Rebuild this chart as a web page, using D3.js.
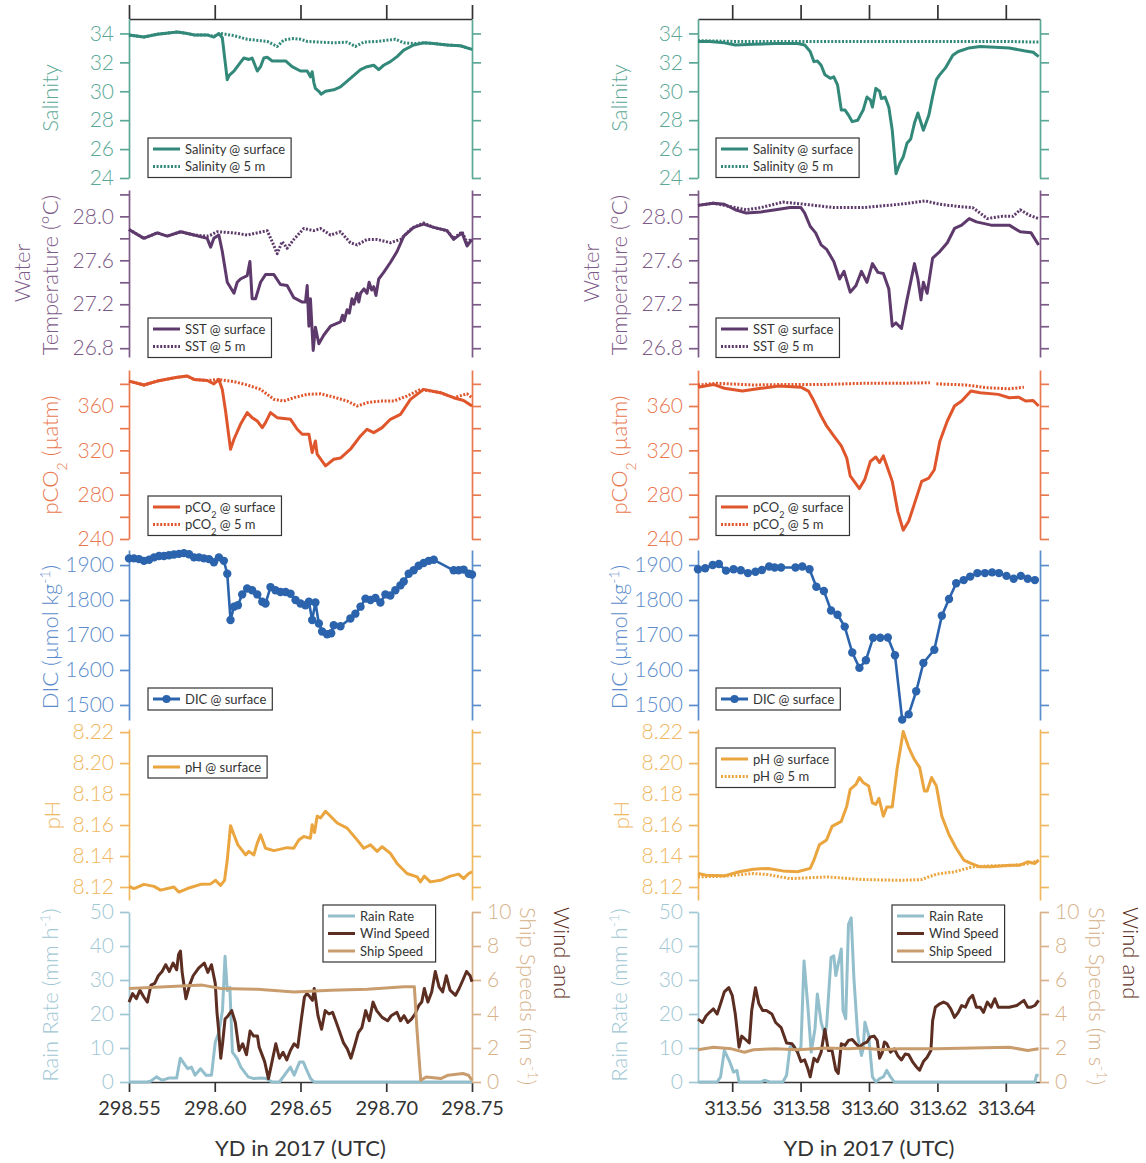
<!DOCTYPE html>
<html>
<head>
<meta charset="utf-8">
<script src="https://cdn.jsdelivr.net/npm/d3@7"></script>
<style>
  body { margin: 0; background: #fff; }
  svg text { font-family: Lato, "Open Sans", sans-serif; font-weight: 300; }
  svg text.dark { font-weight: 400; }
</style>
</head>
<body>
<svg id="chart" width="1146" height="1163"></svg>
<script>
// ---------------- tick values ----------------
const xTicksLeft  = [298.55, 298.60, 298.65, 298.70, 298.75];
const xTicksRight = [313.56, 313.58, 313.60, 313.62, 313.64];
const salTicks   = [24, 26, 28, 30, 32, 34];
const tempTicks  = [26.8, 27.0, 27.2, 27.4, 27.6, 27.8, 28.0, 28.2];
const tempLabels = [26.8, 27.2, 27.6, 28.0];
const pco2Ticks  = [240, 260, 280, 300, 320, 340, 360, 380];
const pco2Labels = [240, 280, 320, 360];
const dicTicks   = [1500, 1600, 1700, 1800, 1900];
const phTicks    = [8.12, 8.14, 8.16, 8.18, 8.20, 8.22];
const rainTicks  = [0, 10, 20, 30, 40, 50];
const speedTicks = [0, 2, 4, 6, 8, 10];

// ---------------- YD 298 (left column) ----------------
const salSurfL = [[298.5500,33.9],[298.5587,33.75],[298.5665,33.95],[298.5782,34.1],[298.5840,34.0],[298.5879,33.9],[298.5956,33.9],[298.5995,33.75],[298.6024,34.0],[298.6044,33.7],[298.6057,32.4],[298.6073,30.8],[298.6084,31.1],[298.6112,31.4],[298.6150,32.0],[298.6170,32.3],[298.6199,32.2],[298.6218,32.3],[298.6248,31.4],[298.6267,31.7],[298.6286,32.3],[298.6306,32.35],[298.6335,32.1],[298.6413,32.1],[298.6451,31.7],[298.6500,31.4],[298.6539,31.4],[298.6558,31.0],[298.6568,31.35],[298.6578,30.6],[298.6587,30.2],[298.6607,30.0],[298.6620,29.8],[298.6646,30.0],[298.6694,30.1],[298.6733,30.3],[298.6791,30.9],[298.6850,31.5],[298.6888,31.7],[298.6927,31.8],[298.6956,31.5],[298.6985,31.8],[298.7024,32.05],[298.7063,32.4],[298.7102,32.85],[298.7160,33.2],[298.7218,33.35],[298.7277,33.3],[298.7354,33.2],[298.7432,33.15],[298.7500,32.9]];
const sal5mL = [[298.5500,33.9],[298.5587,33.75],[298.5665,33.95],[298.5782,34.1],[298.5840,34.0],[298.5879,33.9],[298.5956,33.9],[298.5995,33.8],[298.6034,34.0],[298.6112,33.85],[298.6189,33.6],[298.6267,33.5],[298.6306,33.45],[298.6364,33.1],[298.6403,33.55],[298.6461,33.65],[298.6500,33.6],[298.6539,33.45],[298.6617,33.4],[298.6694,33.35],[298.6772,33.4],[298.6820,33.1],[298.6869,33.4],[298.6947,33.45],[298.7053,33.6],[298.7102,33.35],[298.7160,33.3],[298.7218,33.35],[298.7277,33.3],[298.7354,33.2],[298.7432,33.15],[298.7500,32.9]];

const tempSurfL = [[298.5500,27.88],[298.5587,27.80],[298.5665,27.85],[298.5723,27.82],[298.5801,27.86],[298.5879,27.83],[298.5956,27.80],[298.5976,27.72],[298.5995,27.80],[298.6024,27.83],[298.6044,27.68],[298.6073,27.40],[298.6112,27.30],[298.6131,27.40],[298.6150,27.43],[298.6189,27.46],[298.6205,27.59],[298.6218,27.25],[298.6238,27.25],[298.6267,27.40],[298.6296,27.47],[298.6345,27.47],[298.6383,27.38],[298.6422,27.37],[298.6461,27.26],[298.6510,27.22],[298.6529,27.22],[298.6539,27.37],[298.6549,27.00],[298.6558,27.25],[298.6574,26.78],[298.6587,26.99],[298.6607,26.84],[298.6636,26.92],[298.6675,27.00],[298.6733,27.04],[298.6745,27.10],[298.6755,27.05],[298.6772,27.15],[298.6785,27.12],[298.6800,27.25],[298.6811,27.20],[298.6830,27.30],[298.6840,27.22],[298.6850,27.30],[298.6870,27.34],[298.6888,27.30],[298.6900,27.40],[298.6915,27.33],[298.6927,27.36],[298.6940,27.28],[298.6956,27.43],[298.6985,27.49],[298.7024,27.58],[298.7063,27.68],[298.7102,27.82],[298.7160,27.90],[298.7218,27.93],[298.7277,27.90],[298.7354,27.87],[298.7393,27.79],[298.7442,27.85],[298.7471,27.73],[298.7500,27.79]];
const temp5mL = [[298.5500,27.88],[298.5587,27.80],[298.5665,27.85],[298.5723,27.82],[298.5801,27.86],[298.5879,27.83],[298.5956,27.82],[298.5976,27.83],[298.6014,27.86],[298.6112,27.85],[298.6189,27.83],[298.6306,27.87],[298.6335,27.77],[298.6364,27.66],[298.6393,27.77],[298.6422,27.71],[298.6461,27.79],[298.6519,27.89],[298.6578,27.87],[298.6617,27.89],[298.6675,27.83],[298.6733,27.86],[298.6791,27.76],[298.6830,27.74],[298.6888,27.79],[298.6947,27.79],[298.7024,27.76],[298.7083,27.79],[298.7141,27.88],[298.7160,27.90],[298.7218,27.94],[298.7277,27.90],[298.7354,27.87],[298.7393,27.80],[298.7442,27.86],[298.7471,27.76],[298.7500,27.80]];

const pco2SurfL = [[298.5500,382.5],[298.5587,379],[298.5665,382.5],[298.5782,386],[298.5840,387],[298.5879,384],[298.5956,383],[298.5995,380],[298.6024,384],[298.6044,375],[298.6063,355.5],[298.6092,321],[298.6112,330],[298.6150,343.5],[298.6189,354],[298.6218,349.5],[298.6248,346.5],[298.6277,340.5],[298.6296,345],[298.6325,354],[298.6364,349.5],[298.6442,348],[298.6481,339],[298.6510,334.5],[298.6549,334.5],[298.6568,318],[298.6587,328.5],[298.6597,316.5],[298.6646,306],[298.6694,312],[298.6733,313],[298.6791,321],[298.6850,333],[298.6888,339],[298.6927,336],[298.6976,340.5],[298.7024,348],[298.7083,352.5],[298.7141,366],[298.7218,375],[298.7316,372],[298.7393,367.5],[298.7451,365],[298.7500,360]];
const pco25mL = [[298.5500,382.5],[298.5587,379],[298.5665,382.5],[298.5782,386],[298.5840,387],[298.5879,384],[298.5956,383],[298.6024,384],[298.6112,382],[298.6189,379],[298.6267,375],[298.6345,366],[298.6403,364.5],[298.6461,367.5],[298.6539,370.5],[298.6617,371],[298.6694,368],[298.6772,364.5],[298.6830,360],[298.6888,363],[298.6966,364.5],[298.7044,364.5],[298.7121,369],[298.7199,375],[298.7316,372],[298.7393,367.5],[298.7471,371],[298.7500,367.5]];

const dicSurfL = [[298.5500,1919],[298.5529,1919],[298.5558,1917],[298.5587,1912],[298.5617,1915],[298.5646,1922],[298.5675,1926],[298.5704,1926],[298.5733,1928],[298.5762,1930],[298.5791,1932],[298.5820,1934],[298.5850,1931],[298.5879,1922],[298.5908,1922],[298.5937,1919],[298.5966,1917],[298.5995,1908],[298.6024,1922],[298.6053,1912],[298.6073,1875],[298.6092,1743],[298.6112,1781],[298.6135,1785],[298.6160,1816],[298.6189,1833],[298.6218,1828],[298.6248,1816],[298.6277,1795],[298.6296,1790],[298.6325,1837],[298.6354,1828],[298.6383,1823],[298.6413,1823],[298.6442,1818],[298.6471,1800],[298.6500,1790],[298.6529,1785],[298.6549,1795],[298.6568,1743],[298.6587,1793],[298.6607,1733],[298.6626,1710],[298.6655,1702],[298.6679,1705],[298.6694,1728],[298.6733,1725],[298.6791,1747],[298.6820,1761],[298.6850,1781],[298.6879,1804],[298.6908,1800],[298.6937,1806],[298.6966,1793],[298.6995,1816],[298.7024,1813],[298.7053,1828],[298.7083,1842],[298.7102,1853],[298.7131,1875],[298.7160,1885],[298.7189,1898],[298.7218,1906],[298.7248,1912],[298.7277,1915],[298.7393,1885],[298.7422,1885],[298.7451,1887],[298.7481,1875],[298.7500,1873]];

const phSurfL = [[298.5500,8.1204],[298.5529,8.119],[298.5587,8.1217],[298.5646,8.1204],[298.5684,8.118],[298.5762,8.12],[298.5791,8.1167],[298.5840,8.119],[298.5918,8.1217],[298.5976,8.122],[298.6005,8.1243],[298.6034,8.121],[298.6057,8.1243],[298.6073,8.1374],[298.6092,8.1596],[298.6112,8.1537],[298.6135,8.1472],[298.6180,8.1407],[298.6199,8.143],[298.6228,8.1407],[298.6248,8.1483],[298.6267,8.1537],[298.6296,8.145],[298.6345,8.1435],[298.6422,8.1454],[298.6461,8.145],[298.6490,8.1504],[298.6519,8.1526],[298.6558,8.1515],[298.6568,8.1602],[298.6582,8.1552],[298.6597,8.1657],[298.6617,8.1646],[298.6646,8.1689],[298.6675,8.1657],[298.6714,8.1613],[298.6772,8.158],[298.6830,8.1504],[298.6869,8.145],[298.6908,8.1472],[298.6947,8.143],[298.6976,8.146],[298.7024,8.1417],[298.7063,8.1352],[298.7121,8.1287],[298.7180,8.1265],[298.7199,8.1233],[298.7222,8.127],[298.7257,8.1233],[298.7316,8.1243],[298.7374,8.127],[298.7422,8.1283],[298.7451,8.1254],[298.7481,8.1287],[298.7500,8.1298]];

const rainL = [[298.5500,0],[298.5607,0],[298.5628,0.3],[298.5660,1.5],[298.5693,0.5],[298.5735,1.2],[298.5778,1.2],[298.5799,7.0],[298.5821,5.4],[298.5842,3.9],[298.5864,4.4],[298.5885,2.0],[298.5917,3.9],[298.5949,2.0],[298.5981,2.0],[298.6003,11.7],[298.6024,14.6],[298.6045,21],[298.6060,37],[298.6073,26.9],[298.6088,27.8],[298.6103,8.8],[298.6131,6.8],[298.6152,4.4],[298.6174,2.9],[298.6195,1.5],[298.6227,1.0],[298.6270,1.2],[298.6302,1.0],[298.6334,0],[298.6377,0],[298.6441,4.4],[298.6463,2.0],[298.6495,5.9],[298.6516,5.9],[298.6537,3.4],[298.6559,1.0],[298.6580,0],[298.7500,0]];
const windL = [[298.5500,4.7],[298.5521,5.2],[298.5543,4.9],[298.5564,5.4],[298.5586,5.0],[298.5607,4.7],[298.5628,5.7],[298.5650,5.8],[298.5671,6.25],[298.5693,6.5],[298.5714,6.9],[298.5735,6.5],[298.5757,7.0],[298.5778,6.6],[298.5789,7.5],[298.5800,7.7],[298.5810,6.45],[298.5832,4.9],[298.5853,5.7],[298.5874,6.25],[298.5906,6.7],[298.5939,7.0],[298.5960,6.45],[298.5981,6.9],[298.6003,5.8],[298.6013,4.1],[298.6024,2.9],[298.6035,1.4],[298.6046,2.3],[298.6060,3.7],[298.6078,3.9],[298.6099,4.2],[298.6120,3.5],[298.6142,1.85],[298.6163,2.25],[298.6185,1.6],[298.6206,3.0],[298.6227,2.7],[298.6249,2.7],[298.6259,2.05],[298.6291,1.2],[298.6313,0.2],[298.6334,1.2],[298.6356,2.25],[298.6377,1.4],[298.6398,1.75],[298.6420,1.3],[298.6441,1.85],[298.6463,2.25],[298.6484,2.05],[298.6505,3.7],[298.6523,5.0],[298.6537,5.2],[298.6548,5.1],[298.6570,4.8],[298.6580,5.5],[298.6602,3.9],[298.6623,3.1],[298.6644,4.2],[298.6666,4.0],[298.6687,4.1],[298.6709,3.5],[298.6730,2.9],[298.6751,2.3],[298.6773,1.95],[298.6794,1.4],[298.6816,2.15],[298.6837,2.9],[298.6858,3.2],[298.6880,4.2],[298.6901,3.6],[298.6923,4.7],[298.6944,4.2],[298.6976,3.8],[298.7008,3.6],[298.7029,3.9],[298.7062,4.1],[298.7083,3.6],[298.7104,3.9],[298.7126,3.5],[298.7147,3.7],[298.7168,4.0],[298.7190,4.5],[298.7207,4.7],[298.7222,5.5],[298.7243,4.7],[298.7265,5.3],[298.7286,6.5],[298.7308,5.6],[298.7329,5.3],[298.7350,6.25],[298.7372,5.4],[298.7404,5.1],[298.7425,5.5],[298.7447,6.0],[298.7468,6.5],[298.7489,6.25],[298.7500,5.9]];
const shipL = [[298.5500,5.5],[298.5714,5.6],[298.5928,5.7],[298.6035,5.5],[298.6249,5.45],[298.6463,5.3],[298.6677,5.4],[298.6890,5.45],[298.7104,5.6],[298.7164,5.6],[298.7179,3.1],[298.7201,0.1],[298.7233,0.3],[298.7318,0.2],[298.7361,0.4],[298.7447,0.5],[298.7479,0.4],[298.7500,0.1]];

// ---------------- YD 313 (right column) ----------------
const salSurfR = [[313.5500,33.45],[313.5534,33.45],[313.5577,33.35],[313.5609,33.2],[313.5662,33.25],[313.5727,33.3],[313.5791,33.3],[313.5812,33.2],[313.5828,32.75],[313.5839,32.05],[313.5849,32.1],[313.5860,31.8],[313.5871,31.15],[313.5887,30.9],[313.5897,31.0],[313.5908,30.45],[313.5919,28.7],[313.5930,28.7],[313.5940,28.35],[313.5951,27.9],[313.5967,28.0],[313.5983,28.7],[313.5994,29.6],[313.6004,29.4],[313.6010,28.9],[313.6020,30.2],[313.6031,30.0],[313.6036,29.5],[313.6047,29.6],[313.6058,28.9],[313.6068,27.3],[313.6079,24.3],[313.6090,25.0],[313.6100,25.45],[313.6111,26.4],[313.6122,26.7],[313.6133,27.8],[313.6143,28.5],[313.6159,27.3],[313.6175,28.35],[313.6186,29.65],[313.6197,30.8],[313.6207,31.15],[313.6223,31.6],[313.6245,32.5],[313.6261,32.75],[313.6293,33.0],[313.6325,33.1],[313.6368,33.05],[313.6410,33.0],[313.6453,32.8],[313.6480,32.7],[313.6496,32.4]];
const sal5mR = [[313.5500,33.5],[313.5550,33.48],[313.5600,33.45],[313.5700,33.45],[313.5800,33.45],[313.5900,33.45],[313.6000,33.45],[313.6100,33.45],[313.6200,33.45],[313.6300,33.45],[313.6400,33.45],[313.6496,33.4]];

const tempSurfR = [[313.5500,28.10],[313.5545,28.12],[313.5577,28.11],[313.5609,28.06],[313.5641,28.03],[313.5684,28.04],[313.5727,28.06],[313.5769,28.08],[313.5801,28.08],[313.5812,28.03],[313.5828,27.91],[313.5844,27.85],[313.5860,27.74],[313.5876,27.70],[313.5897,27.59],[313.5914,27.43],[313.5927,27.50],[313.5945,27.31],[313.5962,27.37],[313.5978,27.50],[313.5994,27.40],[313.6010,27.57],[313.6026,27.49],[313.6042,27.48],[313.6058,27.34],[313.6068,27.00],[313.6079,27.03],[313.6095,26.98],[313.6111,27.24],[313.6133,27.57],[313.6143,27.43],[313.6152,27.24],[313.6159,27.40],[313.6170,27.30],[313.6186,27.62],[313.6207,27.68],[313.6229,27.76],[313.6250,27.89],[313.6271,27.92],[313.6293,27.98],[313.6314,27.95],[313.6357,27.92],[313.6410,27.92],[313.6442,27.86],[313.6474,27.85],[313.6496,27.74]];
const temp5mR = [[313.5500,28.10],[313.5545,28.12],[313.5609,28.08],[313.5641,28.06],[313.5684,28.08],[313.5748,28.13],[313.5812,28.11],[313.5897,28.08],[313.5983,28.08],[313.6090,28.11],[313.6165,28.14],[313.6207,28.11],[313.6261,28.09],[313.6303,28.08],[313.6346,27.98],[313.6389,28.00],[313.6421,28.00],[313.6442,28.06],[313.6469,28.01],[313.6496,27.98]];

const pco2SurfR = [[313.5500,377],[313.5545,379.5],[313.5577,376],[313.5630,373.5],[313.5684,376],[313.5737,378],[313.5801,377],[313.5823,373.5],[313.5839,364.5],[313.5860,351],[313.5876,342],[313.5897,333],[313.5919,324],[313.5935,313],[313.5945,297],[313.5972,285.5],[313.5988,294],[313.6004,310],[313.6020,314],[313.6031,309],[313.6042,315],[313.6058,301],[313.6068,292],[313.6084,265],[313.6100,248],[313.6116,256],[313.6132,271],[313.6154,292],[313.6175,295],[313.6191,302.5],[313.6207,328],[313.6229,346.5],[313.6250,360],[313.6271,364.5],[313.6298,373.5],[313.6325,372],[313.6378,370.5],[313.6410,367.5],[313.6437,368],[313.6458,364.5],[313.6480,365],[313.6496,360]];
const pco25mR = [[313.5500,379],[313.5556,380.5],[313.5662,379],[313.5769,379.5],[313.5876,379.5],[313.5983,380.5],[313.6090,380.5],[313.6178,381],[313.6186,null],[313.6197,380],[313.6282,379],[313.6346,376.5],[313.6410,375.5],[313.6453,377]];

const dicSurfR = [[313.5500,1888],[313.5521,1891],[313.5543,1900],[313.5561,1903],[313.5582,1884],[313.5604,1888],[313.5625,1885],[313.5646,1877],[313.5668,1881],[313.5687,1886],[313.5708,1896],[313.5724,1893],[313.5743,1893],[313.5785,1893],[313.5805,1896],[313.5826,1888],[313.5846,1838],[313.5868,1826],[313.5889,1770],[313.5908,1758],[313.5929,1724],[313.5951,1650],[313.5972,1606],[313.5991,1628],[313.6012,1692],[313.6033,1692],[313.6055,1693],[313.6076,1642],[313.6097,1458],[313.6116,1473],[313.6138,1539],[313.6159,1620],[313.6191,1658],[313.6213,1755],[313.6234,1803],[313.6255,1848],[313.6277,1857],[313.6296,1867],[313.6317,1877],[313.6339,1877],[313.6360,1879],[313.6380,1877],[313.6402,1869],[313.6423,1861],[313.6444,1869],[313.6464,1861],[313.6485,1857]];

const phSurfR = [[313.5500,8.1287],[313.5524,8.1276],[313.5577,8.1272],[313.5620,8.1298],[313.5662,8.1315],[313.5705,8.132],[313.5748,8.1304],[313.5791,8.1298],[313.5828,8.132],[313.5839,8.1374],[313.5855,8.1472],[313.5876,8.1504],[313.5892,8.1591],[313.5919,8.1624],[313.5935,8.1722],[313.5945,8.183],[313.5962,8.1863],[313.5972,8.1907],[313.5983,8.1874],[313.5999,8.1852],[313.6010,8.1743],[313.6020,8.1733],[313.6029,8.1772],[313.6042,8.1657],[313.6052,8.1717],[313.6068,8.1717],[313.6082,8.1961],[313.6100,8.2204],[313.6116,8.2102],[313.6132,8.2026],[313.6148,8.1972],[313.6162,8.182],[313.6170,8.182],[313.6183,8.1907],[313.6197,8.1852],[313.6213,8.1657],[313.6234,8.1537],[313.6255,8.145],[313.6277,8.1374],[313.6298,8.1352],[313.6325,8.133],[313.6357,8.133],[313.6410,8.1341],[313.6442,8.1341],[313.6464,8.1363],[313.6485,8.1352],[313.6496,8.1374]];
const ph5mR = [[313.5500,8.1265],[313.5577,8.127],[313.5662,8.1287],[313.5705,8.128],[313.5769,8.1254],[313.5876,8.1265],[313.5983,8.1248],[313.6090,8.1243],[313.6154,8.1248],[313.6197,8.1283],[313.6250,8.1298],[313.6303,8.133],[313.6357,8.1337],[313.6410,8.1337],[313.6464,8.135],[313.6496,8.137]];

const rainR = [[313.5500,0],[313.5556,0],[313.5566,1.5],[313.5577,9.3],[313.5593,5.9],[313.5604,2.9],[313.5614,3.4],[313.5620,0],[313.5684,0],[313.5694,0.5],[313.5710,0],[313.5748,0],[313.5759,2.0],[313.5769,10.3],[313.5780,10.7],[313.5791,8.8],[313.5801,10.3],[313.5810,35.6],[313.5821,22.5],[313.5831,8.8],[313.5842,15.6],[313.5849,25.9],[313.5860,17.6],[313.5871,13.7],[313.5876,16.6],[313.5889,36.6],[313.5897,37.1],[313.5903,31.3],[313.5910,34.7],[313.5919,39.1],[313.5924,21.0],[313.5932,18.6],[313.5940,46.4],[313.5948,48.3],[313.5956,30.3],[313.5967,13.7],[313.5978,7.8],[313.5983,9.8],[313.5988,17.6],[313.5999,13.7],[313.6010,1.5],[313.6020,0],[313.6031,1.0],[313.6042,1.5],[313.6052,3.4],[313.6063,1.5],[313.6074,0],[313.6485,0],[313.6490,2.0],[313.6496,2.0]];
const windR = [[313.5500,3.7],[313.5513,3.5],[313.5524,3.9],[313.5534,4.1],[313.5545,4.3],[313.5556,4.0],[313.5566,4.6],[313.5577,5.3],[313.5590,5.55],[313.5600,5.1],[313.5609,4.0],[313.5620,2.05],[313.5628,2.7],[313.5639,2.5],[313.5650,2.3],[313.5657,4.2],[313.5668,5.55],[313.5678,4.6],[313.5689,4.2],[313.5700,4.2],[313.5716,4.0],[313.5727,3.5],[313.5743,3.2],[313.5759,2.3],[313.5775,2.25],[313.5791,1.75],[313.5801,1.2],[313.5812,1.3],[313.5821,0.8],[313.5828,0.3],[313.5839,1.4],[313.5849,1.2],[313.5860,1.75],[313.5871,3.1],[313.5881,1.85],[313.5892,1.85],[313.5903,0.7],[313.5910,0.5],[313.5919,2.25],[313.5930,2.15],[313.5940,2.45],[313.5951,2.5],[313.5962,2.25],[313.5972,2.05],[313.5983,2.25],[313.5994,2.35],[313.6004,2.65],[313.6015,2.7],[313.6024,2.45],[313.6031,1.4],[313.6039,1.75],[313.6045,2.35],[313.6052,2.25],[313.6063,1.75],[313.6074,1.95],[313.6084,1.55],[313.6095,1.3],[313.6106,1.65],[313.6116,1.6],[313.6127,1.2],[313.6138,0.9],[313.6148,0.7],[313.6159,1.2],[313.6170,1.45],[313.6181,1.85],[313.6186,3.6],[313.6194,4.4],[313.6207,4.6],[313.6218,4.7],[313.6229,4.6],[313.6239,4.3],[313.6250,3.8],[313.6261,4.1],[313.6271,4.5],[313.6282,4.4],[313.6293,4.9],[313.6303,5.1],[313.6314,4.4],[313.6325,4.4],[313.6335,4.1],[313.6346,4.7],[313.6357,4.4],[313.6368,4.9],[313.6378,4.4],[313.6389,4.4],[313.6410,4.4],[313.6432,4.5],[313.6453,4.8],[313.6464,4.4],[313.6474,4.4],[313.6485,4.5],[313.6496,4.8]];
const shipR = [[313.5500,1.9],[313.5545,2.05],[313.5598,1.95],[313.5636,1.75],[313.5662,1.9],[313.5727,1.95],[313.5791,1.9],[313.5876,2.0],[313.5940,1.95],[313.5983,2.0],[313.6036,1.9],[313.6090,1.95],[313.6197,1.95],[313.6303,2.0],[313.6410,2.05],[313.6464,1.85],[313.6496,1.95]];

// ---------------- styling ----------------
const C = {
  salAxis: "#5ba896", salLine: "#32897a",
  tempAxis: "#7c5a88", tempLine: "#5e3a6c",
  pco2Axis: "#e9784f", pco2Line: "#e0562c",
  dicAxis: "#5b8ccb", dicLine: "#2b63ad",
  phAxis: "#f0b761", phLine: "#eaa53f",
  rain: "#93bfcd", rainAxis: "#9fc7d4",
  wind: "#5c2e22", ship: "#c99c6e", shipAxis: "#d6b189",
  ink: "#333333"
};
const DOT = "2,1.6";
const FONT = 'Lato, "Open Sans", sans-serif';

const svg = d3.select("#chart");

const columns = [
  { x0: 129, x1: 472, domain: [298.55, 298.75], ticks: xTicksLeft, dx: 0, tickSpacing: 0,
    series: {
      sal:  [{ d: sal5mL, c: C.salLine, dash: DOT }, { d: salSurfL, c: C.salLine }],
      temp: [{ d: temp5mL, c: C.tempLine, dash: DOT }, { d: tempSurfL, c: C.tempLine }],
      pco2: [{ d: pco25mL, c: C.pco2Line, dash: DOT }, { d: pco2SurfL, c: C.pco2Line }],
      dic:  [{ d: dicSurfL, c: C.dicLine, marker: true }],
      ph:   [{ d: phSurfL, c: C.phLine }]
    },
    rain: rainL, wind: windL, ship: shipL,
    legends: {
      sal: { x: 148, y: 138 }, temp: { x: 148, y: 318 }, pco2: { x: 148, y: 496 },
      dic: { x: 148, y: 688 }, ph: { x: 148, y: 756 }, rain: { x: 323, y: 905 }
    },
    phRows: 1
  },
  { x0: 698, x1: 1040, domain: [313.55, 313.65], ticks: xTicksRight, dx: 569, tickSpacing: -1,
    series: {
      sal:  [{ d: sal5mR, c: C.salLine, dash: DOT }, { d: salSurfR, c: C.salLine }],
      temp: [{ d: temp5mR, c: C.tempLine, dash: DOT }, { d: tempSurfR, c: C.tempLine }],
      pco2: [{ d: pco25mR, c: C.pco2Line, dash: DOT }, { d: pco2SurfR, c: C.pco2Line }],
      dic:  [{ d: dicSurfR, c: C.dicLine, marker: true }],
      ph:   [{ d: ph5mR, c: C.phLine, dash: DOT }, { d: phSurfR, c: C.phLine }]
    },
    rain: rainR, wind: windR, ship: shipR,
    legends: {
      sal: { x: 716, y: 138 }, temp: { x: 716, y: 318 }, pco2: { x: 716, y: 496 },
      dic: { x: 716, y: 688 }, ph: { x: 716, y: 748 }, rain: { x: 892, y: 905 }
    },
    phRows: 2
  }
];

const panels = [
  { id: "sal",  top: 19,  bottom: 178, domain: [24, 35],         ticks: salTicks,  labels: salTicks,   fmt: d3.format("d"),   axis: C.salAxis },
  { id: "temp", top: 190, bottom: 357, domain: [26.72, 28.24],   ticks: tempTicks, labels: tempLabels, fmt: d3.format(".1f"), axis: C.tempAxis },
  { id: "pco2", top: 370, bottom: 539, domain: [240, 392.5],     ticks: pco2Ticks, labels: pco2Labels, fmt: d3.format("d"),   axis: C.pco2Axis },
  { id: "dic",  top: 550, bottom: 720, domain: [1457, 1943],     ticks: dicTicks,  labels: dicTicks,   fmt: d3.format("d"),   axis: C.dicAxis },
  { id: "ph",   top: 729, bottom: 900, domain: [8.1116, 8.222],  ticks: phTicks,   labels: phTicks,    fmt: d3.format(".2f"), axis: C.phAxis }
];
const rainPanel = { top: 912, bottom: 1082 };

const legendRows = {
  sal:  [{ t: ["Salinity @ surface"], c: C.salLine }, { t: ["Salinity @ 5 m"], c: C.salLine, dash: DOT }],
  temp: [{ t: ["SST @ surface"], c: C.tempLine }, { t: ["SST @ 5 m"], c: C.tempLine, dash: DOT }],
  pco2: [{ t: ["pCO", { lo: "2" }, " @ surface"], c: C.pco2Line }, { t: ["pCO", { lo: "2" }, " @ 5 m"], c: C.pco2Line, dash: DOT }],
  dic:  [{ t: ["DIC @ surface"], c: C.dicLine, marker: true }],
  ph:   [{ t: ["pH @ surface"], c: C.phLine }, { t: ["pH @ 5 m"], c: C.phLine, dash: DOT }],
  rain: [{ t: ["Rain Rate"], c: C.rain }, { t: ["Wind Speed"], c: C.wind }, { t: ["Ship Speed"], c: C.ship }]
};

function styleAxis(g, color, size, weight) {
  g.select(".domain").attr("stroke", color).attr("stroke-width", 1.7);
  g.selectAll(".tick line").attr("stroke", color).attr("stroke-width", 1.7);
  g.selectAll(".tick text").attr("fill", color).style("font-size", size + "px")
    .style("font-family", FONT).style("font-weight", weight || 300);
}

// appends plain strings, {lo} subscripts and {hi} superscripts as tspans
function addParts(t, parts, small) {
  parts.forEach(p => {
    if (typeof p === "string") {
      t.append("tspan").text(p);
    } else if (p.lo !== undefined) {
      t.append("tspan").attr("baseline-shift", "sub").style("font-size", small + "px").text(p.lo);
    } else {
      t.append("tspan").attr("baseline-shift", "super").style("font-size", small + "px").text(p.hi);
    }
  });
}

function drawLegend(x, y, rows) {
  const g = svg.append("g");
  const rect = g.append("rect").attr("x", x).attr("y", y).attr("fill", "#fff")
    .attr("stroke", C.ink).attr("stroke-width", 1.2);
  let maxW = 0;
  rows.forEach((r, i) => {
    const cy = y + 11 + i * 17.5;
    g.append("line").attr("x1", x + 5).attr("x2", x + 32).attr("y1", cy).attr("y2", cy)
      .attr("stroke", r.c).attr("stroke-width", 3).attr("stroke-dasharray", r.dash || null);
    if (r.marker) g.append("circle").attr("cx", x + 18.5).attr("cy", cy).attr("r", 4).attr("fill", r.c);
    const t = g.append("text").attr("class", "dark").attr("x", x + 37).attr("y", cy).attr("dy", "0.36em")
      .attr("fill", C.ink).style("font-size", "13px");
    addParts(t, r.t, 9);
    maxW = Math.max(maxW, t.node().getComputedTextLength());
  });
  rect.attr("width", 37 + maxW + 6).attr("height", 22 + (rows.length - 1) * 17.5);
}

function rotatedLabel(x, y, parts, color, size, angle, anchor) {
  const t = svg.append("text")
    .attr("transform", `translate(${x},${y}) rotate(${angle})`)
    .attr("text-anchor", anchor || "middle").attr("dy", "0.35em")
    .attr("fill", color).style("font-size", size + "px");
  addParts(t, parts, Math.round(size * 0.62));
  return t;
}

const isLabel = (list, v) => list.some(l => Math.abs(l - v) < 1e-9);

columns.forEach(col => {
  const x = d3.scaleLinear().domain(col.domain).range([col.x0, col.x1]);

  // top frame line with upward ticks
  svg.append("g").attr("transform", `translate(0,19)`)
    .call(d3.axisTop(x).tickValues(col.ticks).tickSize(14).tickSizeOuter(0).tickFormat(""))
    .call(g => styleAxis(g, C.ink, 20));

  panels.forEach(p => {
    const y = d3.scaleLinear().domain(p.domain).range([p.bottom, p.top]);
    svg.append("g").attr("transform", `translate(${col.x0},0)`)
      .call(d3.axisLeft(y).tickValues(p.ticks).tickSize(9).tickPadding(6).tickSizeOuter(0)
        .tickFormat(d => isLabel(p.labels, d) ? p.fmt(d) : ""))
      .call(g => styleAxis(g, p.axis, 21));
    svg.append("g").attr("transform", `translate(${col.x1},0)`)
      .call(d3.axisRight(y).tickValues(p.ticks).tickSize(9).tickSizeOuter(0).tickFormat(""))
      .call(g => styleAxis(g, p.axis, 21));

    const line = d3.line().defined(d => d[1] != null).x(d => x(d[0])).y(d => y(d[1]));
    col.series[p.id].forEach(s => {
      svg.append("path").datum(s.d).attr("d", line).attr("fill", "none")
        .attr("stroke", s.c).attr("stroke-width", s.marker ? 2.6 : 3)
        .attr("stroke-dasharray", s.dash || null).attr("stroke-linejoin", "round");
      if (s.marker) {
        svg.append("g").selectAll("circle").data(s.d).join("circle")
          .attr("cx", d => x(d[0])).attr("cy", d => y(d[1])).attr("r", 4.2).attr("fill", s.c);
      }
    });
  });

  // rain / wind / ship panel
  const yRain = d3.scaleLinear().domain([0, 50]).range([rainPanel.bottom, rainPanel.top]);
  const ySpeed = d3.scaleLinear().domain([0, 10]).range([rainPanel.bottom, rainPanel.top]);
  svg.append("g").attr("transform", `translate(0,${rainPanel.bottom})`)
    .call(d3.axisBottom(x).tickValues(col.ticks).tickSize(10).tickPadding(9).tickSizeOuter(0).tickFormat(d3.format(".2f")))
    .call(g => styleAxis(g, C.ink, 20, 400))
    .call(g => g.selectAll(".tick text").style("letter-spacing", col.tickSpacing + "px"));
  svg.append("g").attr("transform", `translate(${col.x0},0)`)
    .call(d3.axisLeft(yRain).tickValues(rainTicks).tickSize(9).tickPadding(6).tickSizeOuter(0))
    .call(g => styleAxis(g, C.rainAxis, 21));
  svg.append("g").attr("transform", `translate(${col.x1},0)`)
    .call(d3.axisRight(ySpeed).tickValues(speedTicks).tickSize(9).tickPadding(6).tickSizeOuter(0))
    .call(g => styleAxis(g, C.shipAxis, 21));

  const rainLine = d3.line().x(d => x(d[0])).y(d => yRain(d[1]));
  const speedLine = d3.line().x(d => x(d[0])).y(d => ySpeed(d[1]));
  svg.append("path").datum(col.rain).attr("d", rainLine).attr("fill", "none").attr("stroke", C.rain).attr("stroke-width", 3).attr("stroke-linejoin", "round");
  svg.append("path").datum(col.wind).attr("d", speedLine).attr("fill", "none").attr("stroke", C.wind).attr("stroke-width", 3).attr("stroke-linejoin", "round");
  svg.append("path").datum(col.ship).attr("d", speedLine).attr("fill", "none").attr("stroke", C.ship).attr("stroke-width", 3).attr("stroke-linejoin", "round");

  // legends
  drawLegend(col.legends.sal.x, col.legends.sal.y, legendRows.sal);
  drawLegend(col.legends.temp.x, col.legends.temp.y, legendRows.temp);
  drawLegend(col.legends.pco2.x, col.legends.pco2.y, legendRows.pco2);
  drawLegend(col.legends.dic.x, col.legends.dic.y, legendRows.dic);
  drawLegend(col.legends.ph.x, col.legends.ph.y, legendRows.ph.slice(0, col.phRows));
  drawLegend(col.legends.rain.x, col.legends.rain.y, legendRows.rain);

  // axis titles
  const dx = col.dx;
  rotatedLabel(50 + dx, 98, ["Salinity"], C.salAxis, 22, -90);
  rotatedLabel(22 + dx, 273, ["Water"], C.tempAxis, 22, -90);
  rotatedLabel(50 + dx, 275, ["Temperature (°C)"], C.tempAxis, 22, -90);
  rotatedLabel(50 + dx, 455, ["pCO", { lo: "2" }, " (µatm)"], C.pco2Axis, 22, -90);
  rotatedLabel(50 + dx, 637, ["DIC (µmol kg", { hi: "-1" }, ")"], C.dicAxis, 22, -90);
  rotatedLabel(52 + dx, 815, ["pH"], C.phAxis, 22, -90);
  rotatedLabel(50 + dx, 995, ["Rain Rate (mm h", { hi: "-1" }, ")"], C.rainAxis, 22, -90);
  rotatedLabel(528 + dx, 907, ["Ship Speeds (m s", { hi: "-1" }, ")"], C.shipAxis, 22, 90, "start");
  rotatedLabel(562 + dx, 907, ["Wind and"], C.wind, 22, 90, "start");

  svg.append("text").attr("class", "dark").attr("x", (col.x0 + col.x1) / 2).attr("y", 1148).attr("dy", "0.35em")
    .attr("text-anchor", "middle").attr("fill", C.ink).style("font-size", "22px")
    .text("YD in 2017 (UTC)");
});
</script>
</body>
</html>
